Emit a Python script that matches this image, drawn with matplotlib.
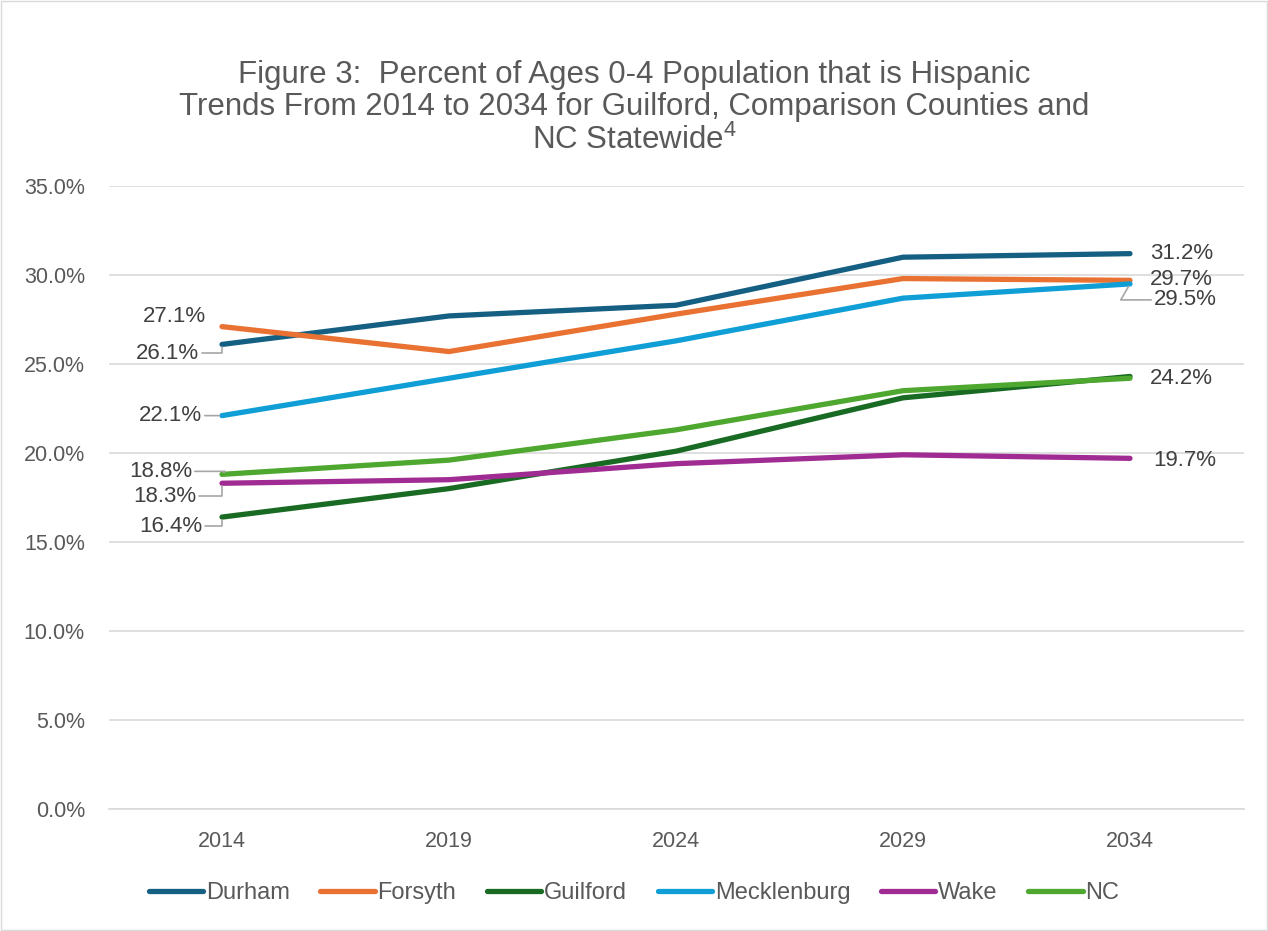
import matplotlib
matplotlib.use("Agg")
import matplotlib.pyplot as plt
from matplotlib.patches import Rectangle

years = ["2014", "2019", "2024", "2029", "2034"]
series_names = ["Durham", "Forsyth", "Guilford", "Mecklenburg", "Wake", "NC"]
durham = [26.1, 27.7, 28.3, 31.0, 31.2]
forsyth = [27.1, 25.7, 27.8, 29.8, 29.7]
guilford = [16.4, 18.0, 20.1, 23.1, 24.3]
mecklenburg = [22.1, 24.2, 26.3, 28.7, 29.5]
wake = [18.3, 18.5, 19.4, 19.9, 19.7]
nc = [18.8, 19.6, 21.3, 23.5, 24.2]
yticks = [0, 5, 10, 15, 20, 25, 30, 35]

colors = ["#156082", "#E97132", "#196B24", "#0F9ED5", "#A02B93", "#4EA72E"]
data = [durham, forsyth, guilford, mecklenburg, wake, nc]

plt.rcParams["font.family"] = ["Liberation Sans", "DejaVu Sans"]
plt.rcParams["mathtext.fontset"] = "custom"
plt.rcParams["mathtext.rm"] = "Liberation Sans"

fig = plt.figure(figsize=(12.68, 9.31), dpi=100)
ax = fig.add_axes([108.5 / 1268, 1 - 809 / 931, 1135 / 1268, 623 / 931])

x = list(range(len(years)))
for vals, c, name in zip(data, colors, series_names):
    ax.plot(x, vals, color=c, lw=3.8, solid_capstyle="round", label=name, zorder=3)

ax.set_xlim(-0.5, 4.5)
ax.set_ylim(0, 35)
ax.set_yticks(yticks)
ax.set_yticklabels([f"{v:.1f}%" for v in yticks])
ax.set_xticks(x)
ax.set_xticklabels(years)
ax.grid(axis="y", color="#D9D9D9", lw=1.2, zorder=0)
ax.tick_params(length=0, labelsize=15.5, colors="#595959")
ax.tick_params(axis="x", pad=16)
ax.tick_params(axis="y", pad=17)
for s in ["top", "right", "left"]:
    ax.spines[s].set_visible(False)
ax.spines["bottom"].set_color("#D9D9D9")
ax.spines["bottom"].set_linewidth(1.2)

lead = dict(arrowstyle="-", color="#A6A6A6", lw=1.2, shrinkA=0, shrinkB=2)
elbow = dict(connectionstyle="angle,angleA=0,angleB=90,rad=0", **lead)
lab = dict(textcoords="offset pixels", fontsize=16, color="#404040", va="center")

# start-of-series labels
ax.annotate(f"{forsyth[0]}%", (0, forsyth[0]), xytext=(-16, 10), ha="right", **lab)
ax.annotate(f"{durham[0]}%", (0, durham[0]), xytext=(-23, -9), ha="right",
            arrowprops=elbow, **lab)
ax.annotate(f"{mecklenburg[0]}%", (0, mecklenburg[0]), xytext=(-20, 0), ha="right",
            arrowprops=lead, **lab)
ax.annotate(f"{nc[0]}%", (0, nc[0]), xytext=(-30, 3), ha="right",
            arrowprops=dict(connectionstyle="angle,angleA=0,angleB=45,rad=0", **lead), **lab)
ax.annotate(f"{wake[0]}%", (0, wake[0]), xytext=(-26, -13), ha="right",
            arrowprops=elbow, **lab)
ax.annotate(f"{guilford[0]}%", (0, guilford[0]), xytext=(-20, -9), ha="right",
            arrowprops=elbow, **lab)

# end-of-series labels
ax.annotate(f"{durham[-1]}%", (4, durham[-1]), xytext=(20, 0), ha="left", **lab)
ax.annotate(f"{forsyth[-1]}%", (4, forsyth[-1]), xytext=(20, 1), ha="left", **lab)
ax.annotate(f"{mecklenburg[-1]}%", (4, mecklenburg[-1]), xytext=(24, -16), ha="left",
            arrowprops=dict(connectionstyle="angle,angleA=0,angleB=60,rad=0", **lead), **lab)
ax.annotate(f"{nc[-1]}%", (4, nc[-1]), xytext=(20, 0), ha="left", **lab)
ax.annotate(f"{wake[-1]}%", (4, wake[-1]), xytext=(23, -2), ha="left", **lab)

fig.text(0.5, 1 - 108 / 931,
         "Figure 3:  Percent of Ages 0-4 Population that is Hispanic\n"
         "Trends From 2014 to 2034 for Guilford, Comparison Counties and\n"
         "NC Statewide$^{4}$",
         ha="center", va="center", fontsize=22.5, color="#595959", linespacing=1.12)

fig.legend(loc="center", bbox_to_anchor=(0.5, 1 - 893 / 931), ncol=6, frameon=False,
           handlelength=2.3, columnspacing=1.3, handletextpad=0.12,
           prop={"size": 17}, labelcolor="#595959")

fig.patches.append(Rectangle((0.001, 0.001), 0.998, 0.998, transform=fig.transFigure,
                             fill=False, edgecolor="#D9D9D9", lw=1))

fig.savefig("out.png", dpi=100)
